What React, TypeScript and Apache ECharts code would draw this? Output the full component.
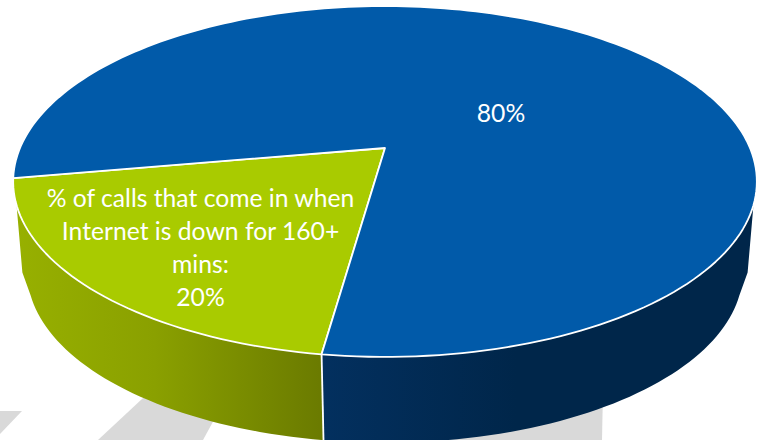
import React, { useEffect, useRef } from "react";
import * as echarts from "echarts";

// Share of calls by outage duration, drawn as a tilted 3D pie.
const categories = ["% of calls that come in when\nInternet is down for 160+\nmins:", ""];
const shares = [20, 80];
const labelTexts = ["% of calls that come in when\nInternet is down for 160+\nmins:\n20%", "80%"];
const topColors = ["#A9CB00", "#015AA9"];
const wallColors = [
  ["#97B000", "#8AA000", "#6A7A00"],
  ["#03305F", "#00264A", "#00264A"],
];

// Perspective projection of the unit disc on to the page.
const CX = 385;
const CY_TOP = 148;
const CY_LOW = 240;
const A_TOP = 365;
const B_TOP = 169;
const A_LOW = 351;
const B_LOW = 164;
const K = 0.191;
const FIRST_ANGLE = 8.1;
const WALL_LIMIT = 71.5;
// Outermost bulge of the wall's silhouette, part way down the side.
const KNEE_ANGLE = 80;
const KNEE_CY = 243;
const KNEE_A = 356;
const LABEL_POS = [
  [200.5, 247],
  [501, 112],
];

const rad = (d: number) => (d * Math.PI) / 180;

// phi runs clockwise on screen from the point of the disc nearest the viewer.
function project(phi: number, cy: number, a: number, b: number): number[] {
  const u = -Math.sin(rad(phi));
  const v = Math.cos(rad(phi));
  const w = 1 - K * v;
  return [CX + (a * u) / w, cy + (b * v) / w];
}

function arc(from: number, to: number, cy: number, a: number, b: number): number[][] {
  const steps = Math.max(2, Math.ceil(Math.abs(to - from) / 1.5));
  const pts: number[][] = [];
  for (let i = 0; i <= steps; i++) {
    pts.push(project(from + ((to - from) * i) / steps, cy, a, b));
  }
  return pts;
}

const total = shares.reduce((s, v) => s + v, 0);

function renderSlice(params: any, api: any) {
  const index = params.dataIndex;
  let start = FIRST_ANGLE;
  for (let i = 0; i < index; i++) start += (shares[i] / total) * 360;
  const end = start + (api.value(0) / total) * 360;
  const children: any[] = [];

  // Side wall: only the part of the rim facing the viewer.
  [0, 360].forEach((shift) => {
    const from = Math.max(start, shift - WALL_LIMIT);
    const to = Math.min(end, shift + WALL_LIMIT);
    if (from >= to) return;
    const colors = wallColors[index];
    const points = [...arc(from, to, CY_TOP, A_TOP, B_TOP)];
    if (to === shift + WALL_LIMIT) points.push(project(KNEE_ANGLE, KNEE_CY, KNEE_A, B_LOW));
    points.push(...arc(to, from, CY_LOW, A_LOW, B_LOW));
    if (from === shift - WALL_LIMIT) points.push(project(-KNEE_ANGLE, KNEE_CY, KNEE_A, B_LOW));
    children.push({
      type: "polygon",
      shape: { points },
      style: {
        fill: new echarts.graphic.LinearGradient(0, 0, 1, 0, [
          { offset: 0, color: colors[0] },
          { offset: 0.45, color: colors[1] },
          { offset: 1, color: colors[2] },
        ]),
      },
    });
  });

  // Top face.
  children.push({
    type: "polygon",
    shape: { points: [[CX, CY_TOP], ...arc(start, end, CY_TOP, A_TOP, B_TOP)] },
    style: { fill: topColors[index], stroke: "#FFFFFF", lineWidth: 1.8, lineJoin: "round" },
  });

  // White seam down the wall at the start of the slice.
  if (index === 0) {
    const a = project(start, CY_TOP, A_TOP, B_TOP);
    const b = project(start, CY_LOW, A_LOW, B_LOW);
    children.push({
      type: "line",
      shape: { x1: a[0], y1: a[1], x2: b[0] - 0.5, y2: b[1] },
      style: { stroke: "#FFFFFF", lineWidth: 1.8 },
      z2: 5,
    });
  }

  children.push({
    type: "text",
    x: LABEL_POS[index][0],
    y: LABEL_POS[index][1],
    z2: 10,
    style: {
      text: labelTexts[index],
      fill: "#FFFFFF",
      font: '24.7px Lato, "Open Sans", sans-serif',
      lineHeight: 33,
      align: "center",
      verticalAlign: "middle",
    },
  });

  return { type: "group", children };
}

export default function App() {
  const ref = useRef<HTMLDivElement>(null);
  useEffect(() => {
    const chart = echarts.init(ref.current, undefined, { renderer: "svg" });
    const grey = { fill: "#D9D9D9" };
    chart.setOption({
      animation: false,
      backgroundColor: "#FFFFFF",
      // Pale diagonal bands behind the pie.
      graphic: [
        { type: "polygon", z: 0, shape: { points: [[0, 411], [22, 411], [0, 434]] }, style: grey },
        { type: "polygon", z: 0, shape: { points: [[98, 440], [157, 385], [233, 385], [203, 440]] }, style: grey },
        { type: "polygon", z: 0, shape: { points: [[420, 440], [420, 390], [603, 390], [602, 440]] }, style: grey },
      ],
      series: [
        {
          type: "custom",
          coordinateSystem: "none",
          z: 2,
          clip: false,
          renderItem: renderSlice,
          data: shares.map((v, i) => ({ name: categories[i], value: [v] })),
        },
      ],
    });
    return () => chart.dispose();
  }, []);
  return <div ref={ref} style={{ width: 763, height: 440, position: "absolute", left: 0, top: 0 }} />;
}
